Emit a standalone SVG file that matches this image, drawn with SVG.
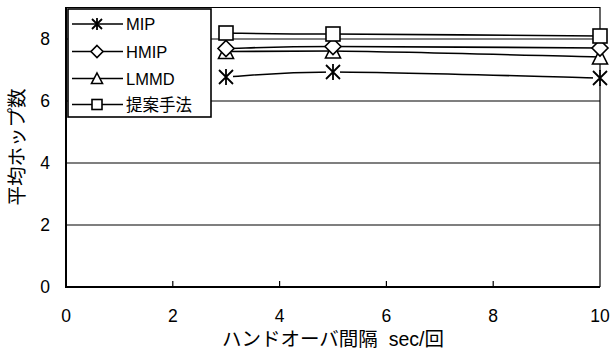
<svg xmlns="http://www.w3.org/2000/svg" width="610" height="351" viewBox="0 0 610 351">
<style>
.ax{stroke:#000;stroke-width:2;fill:none}
.grid{stroke:#000;stroke-width:1.2;fill:none}
.ser{stroke:#000;stroke-width:1.6;fill:none}
.mk{stroke:#000;stroke-width:1.6;fill:#fff}
.t{font-family:"Liberation Sans","Noto Sans CJK JP",sans-serif;font-size:17.5px;fill:#000}
.tj{font-family:"Liberation Sans","Noto Sans CJK JP",sans-serif;font-size:19.5px;fill:#000}
.lg{font-family:"Liberation Sans","Noto Sans CJK JP",sans-serif;font-size:16.5px;fill:#000}
</style>
<defs>
<g id="sq"><rect x="-7" y="-7" width="14" height="14" class="mk"/></g>
<g id="di"><path d="M0,-8 L8,0 L0,8 L-8,0 Z" class="mk"/></g>
<g id="tr"><path d="M0,-8 L7.5,7 L-7.5,7 Z" class="mk"/></g>
<g id="st"><rect x="-7" y="-7" width="14" height="14" fill="#fff"/><path d="M-7,-7 L7,7 M7,-7 L-7,7 M0,-8 L0,8" stroke="#000" stroke-width="1.8" fill="none"/></g>
<g id="sqs"><rect x="-5" y="-5" width="10" height="10" class="mk"/></g>
<g id="dis"><path d="M0,-6 L6,0 L0,6 L-6,0 Z" class="mk"/></g>
<g id="trs"><path d="M0,-5.5 L5.5,5 L-5.5,5 Z" class="mk"/></g>
<g id="sts"><path d="M-5,-5 L5,5 M5,-5 L-5,5 M0,-6 L0,6" stroke="#000" stroke-width="1.8" fill="none"/></g>
</defs>
<rect width="610" height="351" fill="#fff"/>
<g id="plot-area">
<path class="grid" d="M66,225H600M66,163H600M66,101H600M66,39H600"/>
<path class="grid" d="M66,7.5H600V287"/>
<path class="ax" d="M66,7V287H600"/>
<path class="grid" d="M172.8,287V281M279.6,287V281M386.4,287V281M493.2,287V281"/>
</g>
<g id="y-ticks" class="t" text-anchor="end">
<text x="50" y="293">0</text>
<text x="50" y="231">2</text>
<text x="50" y="169">4</text>
<text x="50" y="107">6</text>
<text x="50" y="45">8</text>
</g>
<g id="x-ticks" class="t" text-anchor="middle">
<text x="66" y="322">0</text>
<text x="172.8" y="322">2</text>
<text x="279.6" y="322">4</text>
<text x="386.4" y="322">6</text>
<text x="493.2" y="322">8</text>
<text x="600" y="322">10</text>
</g>
<text id="y-title" class="tj" text-anchor="middle" transform="translate(24,147) rotate(-90)">平均ホップ数</text>
<text id="x-title" class="tj" text-anchor="middle" x="333" y="346" xml:space="preserve">ハンドオーバ間隔  sec/回</text>
<g id="connectors">
<path class="ser" d="M226,77 C244,76.3 271,72 333,72 C395,72 555,77 600,78"/>
<path class="ser" d="M226,51.5 C244,51.4 271,51 333,51 C395,51.5 555,56 600,57"/>
<path class="ser" d="M226,48.5 C244,48.3 271,46.5 333,46.5 C395,46.5 555,47.8 600,48"/>
<path class="ser" d="M226,33 C244,33.2 271,34 333,34 C395,34.3 555,35.6 600,36"/>
</g>
<g id="series-MIP"><use href="#st" x="226" y="77"/><use href="#st" x="333" y="72"/><use href="#st" x="600" y="78"/></g>
<g id="series-LMMD"><use href="#tr" x="226" y="51.5"/><use href="#tr" x="333" y="51"/><use href="#tr" x="600" y="57"/></g>
<g id="series-HMIP"><use href="#di" x="226" y="48.5"/><use href="#di" x="333" y="46.5"/><use href="#di" x="600" y="48"/></g>
<g id="series-proposed"><use href="#sq" x="226" y="33"/><use href="#sq" x="333" y="34"/><use href="#sq" x="600" y="36"/></g>
<g id="legend">
<rect x="68" y="9" width="143" height="108" fill="#fff" stroke="#000" stroke-width="1.6"/>
<path class="ser" d="M72,24H123M72,51.5H123M72,78.5H123M72,104.5H123"/>
<use href="#sts" x="97" y="24"/>
<use href="#dis" x="97" y="51.5"/>
<use href="#trs" x="97" y="78.5"/>
<use href="#sqs" x="97" y="104.5"/>
<text class="lg" x="126" y="30">MIP</text>
<text class="lg" x="126" y="57.5">HMIP</text>
<text class="lg" x="126" y="84.5">LMMD</text>
<text class="lg" x="126" y="110.5">提案手法</text>
</g>
</svg>
